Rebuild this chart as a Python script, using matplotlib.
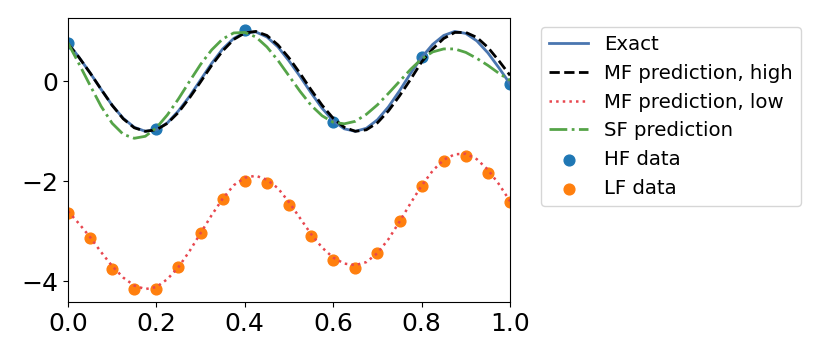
import numpy as np
import matplotlib
matplotlib.use("Agg")
import matplotlib.pyplot as plt

# grid used for the prediction / exact curves
x_line = np.linspace(0, 1, 41)

y_exact = [0.77, 0.48, 0.17, -0.16, -0.48, -0.74, -0.92, -1.00, -0.97, -0.83,
           -0.59, -0.30, 0.03, 0.36, 0.65, 0.86, 0.98, 0.99, 0.89, 0.69,
           0.41, 0.10, -0.23, -0.54, -0.79, -0.95, -1.00, -0.94, -0.77, -0.51,
           -0.19, 0.16, 0.48, 0.74, 0.92, 1.00, 0.96, 0.81, 0.57, 0.27, -0.05]

y_mf_high = [0.75, 0.48, 0.17, -0.16, -0.48, -0.75, -0.93, -1.00, -0.97, -0.84,
             -0.62, -0.33, -0.01, 0.32, 0.61, 0.84, 0.97, 1.00, 0.92, 0.73,
             0.47, 0.16, -0.17, -0.48, -0.74, -0.92, -1.00, -0.97, -0.83, -0.59,
             -0.29, 0.04, 0.39, 0.65, 0.86, 0.98, 0.98, 0.88, 0.68, 0.41, 0.12]

y_mf_low = [-2.60, -2.85, -3.12, -3.42, -3.70, -3.93, -4.09, -4.16, -4.12, -3.96,
            -3.72, -3.40, -3.04, -2.68, -2.35, -2.08, -1.93, -1.89, -1.97, -2.14,
            -2.42, -2.74, -3.06, -3.33, -3.53, -3.65, -3.68, -3.62, -3.44, -3.16,
            -2.81, -2.44, -2.09, -1.79, -1.57, -1.46, -1.45, -1.56, -1.77, -2.06, -2.40]

y_sf = [0.77, 0.35, -0.08, -0.50, -0.84, -1.06, -1.14, -1.10, -0.93, -0.67,
        -0.35, 0.00, 0.34, 0.63, 0.85, 0.97, 0.98, 0.89, 0.69, 0.42,
        0.11, -0.20, -0.48, -0.69, -0.82, -0.85, -0.80, -0.66, -0.47, -0.24,
        0.00, 0.24, 0.45, 0.59, 0.65, 0.65, 0.58, 0.46, 0.32, 0.16, 0.02]

# training data
x_hf = [0.0, 0.2, 0.4, 0.6, 0.8, 1.0]
y_hf = [0.77, -0.96, 1.02, -0.81, 0.49, -0.06]

x_lf = np.linspace(0, 1, 21)
y_lf = [-2.63, -3.14, -3.75, -4.15, -4.15, -3.71, -3.03, -2.36, -1.99, -2.04,
        -2.47, -3.09, -3.58, -3.73, -3.43, -2.80, -2.10, -1.60, -1.49, -1.83, -2.41]

fig = plt.figure(figsize=(8.3, 3.56), dpi=100)
ax = fig.add_axes([0.0819, 0.1517, 0.5326, 0.7991])

ax.plot(x_line, y_exact, "-", color="#4a76b0", lw=2, label="Exact")
ax.plot(x_line, y_mf_high, "--", color="black", lw=2, label="MF prediction, high")
ax.plot(x_line, y_mf_low, ":", color="#e8474f", lw=1.8, label="MF prediction, low")
ax.plot(x_line, y_sf, "-.", color="#55a448", lw=2, label="SF prediction")
ax.scatter(x_hf, y_hf, s=60, color="#1f77b4", label="HF data")
ax.scatter(x_lf, y_lf, s=60, color="#ff7f0e", label="LF data")

ax.set_xlim(0, 1)
ax.set_yticks([-4, -2, 0])
ax.tick_params(labelsize=18)

ax.legend(loc="upper left", bbox_to_anchor=(1.07, 0.967), borderaxespad=0,
          fontsize=14.2)

fig.savefig("out.png", dpi=100)
